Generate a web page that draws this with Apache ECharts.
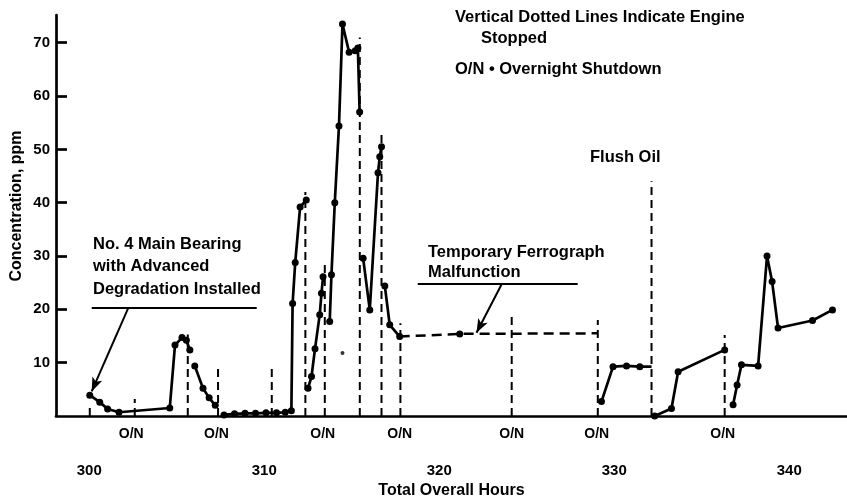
<!DOCTYPE html>
<html><head><meta charset="utf-8">
<script src="https://cdn.jsdelivr.net/npm/echarts@6.0.0/dist/echarts.min.js"></script>
<style>html,body{margin:0;padding:0;background:#fff}#c{width:847px;height:499px}</style>
</head><body><div id="c"></div>
<script>
// Hours tick labels and overnight-shutdown label positions
const hourTicks = [300, 310, 320, 330, 340];
const yTicks = [10, 20, 30, 40, 50, 60, 70];
const overnightAt = [302.4, 307.27, 313.34, 317.74, 324.14, 329.0, 336.2];

// Solid data segments: [hours, ppm, dotFlag(optional 0 = no dot)]
const seg1 = [[300.03,3.9],[300.6,2.6],[301.05,1.3],[301.7,0.7],[304.6,1.5],[304.9,13.3],[305.3,14.7],[305.55,14.2],[305.75,12.4]];
const seg2 = [[306.03,9.4],[306.5,5.2],[306.85,3.4],[307.2,2.0]];
const seg3 = [[307.7,0.2],[308.3,0.4],[308.9,0.5],[309.5,0.5],[310.1,0.6],[310.7,0.6],[311.2,0.7],[311.55,1.0],[311.62,21.1],[311.77,28.8],[312.05,39.2],[312.4,40.5]];
const seg4 = [[312.5,5.2],[312.7,7.4],[312.9,12.6],[313.17,19.0],[313.27,23.0],[313.36,26.1]];
const seg5 = [[313.74,17.7],[313.84,26.5],[314.03,40.0],[314.27,54.4],[314.47,73.5],[314.85,68.2],[315.2,68.5],[315.35,69.0],[315.45,57.0]];
const seg6 = [[315.65,29.6],[316.03,19.9],[316.5,45.6],[316.6,48.6],[316.7,50.5]];
const seg7 = [[316.89,24.4],[317.17,17.1],[317.74,14.9]];
const seg8 = [[329.27,2.7],[329.93,9.25],[330.7,9.4],[331.46,9.25],[332.13,9.25,0]];
const seg9 = [[332.31,0.0],[333.27,1.4],[333.65,8.3],[336.31,12.4]];
const seg10 = [[336.79,2.1],[337.02,5.8],[337.27,9.6],[338.22,9.4],[338.73,30.0],[339.02,25.2],[339.36,16.5],[341.33,17.9],[342.47,19.9]];
// Dashed segment during ferrograph malfunction
const ferroSeg = [[317.74,14.9,0],[321.17,15.4],[329.06,15.5,0]];
// Stray single reading
const strayDot = [[314.47,11.8]];
// Engine-stopped vertical dotted lines: [hours, top ppm]
const engineStops = [[300.03,1.5],[302.6,3.2],[305.63,15.3],[307.36,9.3],[310.43,8.8],[312.35,42],[313.46,28.7],[315.46,71],[316.7,52.7],[317.78,17.4],[324.14,18.6],[329.06,18],[332.13,44],[336.31,15.2]];

const FONT = 'Liberation Sans';
const chart = echarts.init(document.getElementById('c'), null, {renderer:'canvas'});

const solid = [seg1,seg2,seg3,seg4,seg5,seg6,seg7,seg8,seg9,seg10];
const series = [];
solid.forEach(d => series.push({
  type:'line', data:d, symbol:'circle',
  symbolSize:(v)=> v[2]===0 ? 0 : 7,
  lineStyle:{color:'#000', width:2.7}, itemStyle:{color:'#000'},
  clip:false, silent:true, animation:false, z:5
}));
series.push({
  type:'line', data:ferroSeg, symbol:'circle',
  symbolSize:(v)=> v[2]===0 ? 0 : 7,
  lineStyle:{color:'#000', width:2.5, type:[10,6]}, itemStyle:{color:'#000'},
  clip:false, silent:true, animation:false, z:4
});
engineStops.forEach(s => series.push({
  type:'line', data:[[s[0],0],[s[0],s[1]]], symbol:'none',
  lineStyle:{color:'#000', width:2, type:[8,5]},
  clip:false, silent:true, animation:false, z:3
}));
series.push({type:'scatter', data:strayDot, symbolSize:4, itemStyle:{color:'#000'}, silent:true, animation:false});
// Annotation leader lines
series.push({
  type:'line', data:[], silent:true, animation:false,
  markLine:{
    silent:true, animation:false, label:{show:false},
    lineStyle:{color:'#000', type:'solid', width:2},
    symbol:['none','none'],
    data:[
      [{coord:[300.14,20.3]},{coord:[309.57,20.3]}],
      [{coord:[302.22,20.2]},{coord:[300.14,4.6], symbol:'arrow', symbolSize:[8,14]}],
      [{coord:[318.77,24.8]},{coord:[327.91,24.8]}],
      [{coord:[323.55,24.6]},{coord:[322.13,15.6], symbol:'arrow', symbolSize:[8,14]}]
    ]
  }
});

const FS = 16.5;
const txt = (text, x, y) => ({
  type:'text', left:x, top:y,
  style:{text:text, fill:'#000', font:'bold '+FS+'px "'+FONT+'"'}
});

chart.setOption({
  animation:false,
  backgroundColor:'#fff',
  grid:{left:56, right:0, top:15, bottom:83, outerBoundsMode:'none', containLabel:false},
  xAxis:[{
    type:'value', min:298.1, max:343.3,
    axisLine:{lineStyle:{color:'#000', width:2.7}},
    axisTick:{show:false}, splitLine:{show:false},
    axisLabel:{customValues:hourTicks, margin:47, color:'#000', fontSize:15, fontWeight:'bold', fontFamily:FONT},
    name:'Total Overall Hours', nameLocation:'middle', nameGap:66,
    nameTextStyle:{color:'#000', fontSize:16, fontWeight:'bold', fontFamily:FONT}
  },{
    type:'value', min:298.1, max:343.3, position:'bottom',
    axisLine:{show:false}, axisTick:{show:false}, splitLine:{show:false},
    axisLabel:{customValues:overnightAt, formatter:()=> 'O/N', margin:11, color:'#000', fontSize:14, fontWeight:'bold', fontFamily:FONT}
  }],
  yAxis:{
    type:'value', min:0, max:75.2,
    axisLine:{lineStyle:{color:'#000', width:2.7}},
    axisTick:{inside:true, length:11, customValues:yTicks, lineStyle:{color:'#000', width:2.7}},
    splitLine:{show:false},
    axisLabel:{customValues:yTicks, margin:6, color:'#000', fontSize:15, fontWeight:'bold', fontFamily:FONT}
  },
  graphic:[
    {type:'text', x:17, y:206, rotation:Math.PI/2,
     style:{text:'Concentration, ppm', fill:'#000', font:'bold 16px "'+FONT+'"', textAlign:'center', textVerticalAlign:'middle'}},
    txt('Vertical Dotted Lines Indicate Engine', 455, 9),
    txt('Stopped', 481, 30),
    txt('O/N \u2022 Overnight Shutdown', 455, 61),
    txt('Flush Oil', 590, 149),
    txt('No. 4 Main Bearing', 93, 236),
    txt('with Advanced', 93, 258),
    txt('Degradation Installed', 93, 281),
    txt('Temporary Ferrograph', 428, 244),
    txt('Malfunction', 428, 264)
  ],
  series:series
});
</script></body></html>
